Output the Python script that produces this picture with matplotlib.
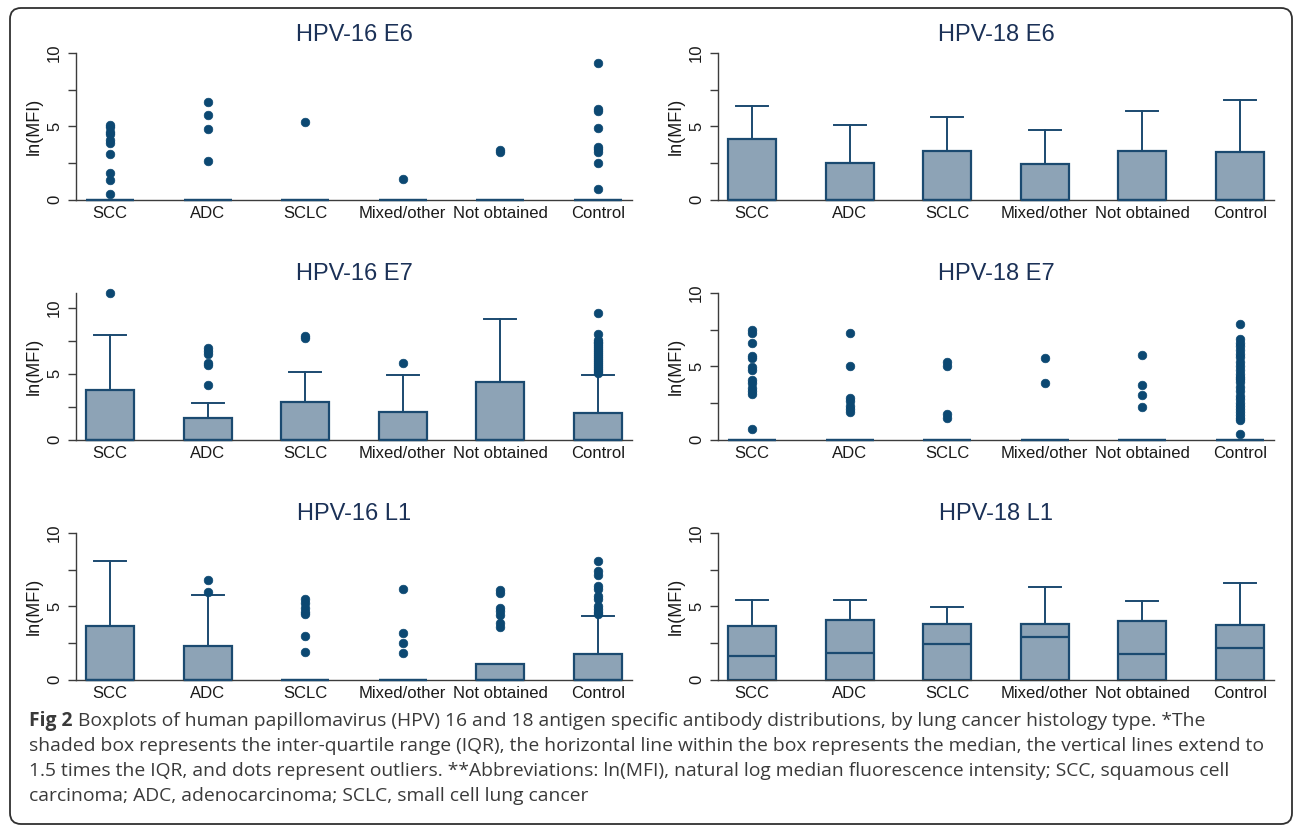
import matplotlib
matplotlib.use("Agg")
import matplotlib.pyplot as plt
from matplotlib.patches import FancyBboxPatch
from matplotlib.transforms import IdentityTransform

# ---------------- data ----------------
categories = ["SCC", "ADC", "SCLC", "Mixed/other", "Not obtained", "Control"]
panel_titles = ["HPV-16 E6", "HPV-18 E6", "HPV-16 E7", "HPV-18 E7", "HPV-16 L1", "HPV-18 L1"]

# HPV-16 E6
hpv16_e6_q1 = [0, 0, 0, 0, 0, 0]
hpv16_e6_med = [0, 0, 0, 0, 0, 0]
hpv16_e6_q3 = [0, 0, 0, 0, 0, 0]
hpv16_e6_hi = [0, 0, 0, 0, 0, 0]
hpv16_e6_out = [
    [0.4, 1.35, 1.8, 3.1, 3.85, 4.05, 4.5, 4.6, 4.95, 5.1],
    [2.6, 4.8, 5.8, 6.65],
    [5.3],
    [1.4],
    [3.25, 3.4],
    [0.7, 2.5, 3.25, 3.45, 3.6, 4.9, 6.05, 6.2, 9.35],
]

# HPV-18 E6
hpv18_e6_q1 = [0, 0, 0, 0, 0, 0]
hpv18_e6_med = [0, 0, 0, 0, 0, 0]
hpv18_e6_q3 = [4.16, 2.48, 3.34, 2.41, 3.32, 3.23]
hpv18_e6_hi = [6.39, 5.07, 5.64, 4.75, 6.07, 6.80]
hpv18_e6_out = [[], [], [], [], [], []]

# HPV-16 E7
hpv16_e7_q1 = [0, 0, 0, 0, 0, 0]
hpv16_e7_med = [0, 0, 0, 0, 0, 0]
hpv16_e7_q3 = [3.80, 1.60, 2.85, 2.10, 4.35, 2.05]
hpv16_e7_hi = [7.97, 2.78, 5.15, 4.93, 9.14, 4.93]
hpv16_e7_out = [
    [11.14],
    [4.18, 5.65, 5.85, 6.5, 6.7, 6.95],
    [7.7, 7.9],
    [5.8],
    [],
    [5.05, 5.2, 5.35, 5.5, 5.65, 5.8, 5.95, 6.1, 6.25, 6.4, 6.55, 6.7,
     6.85, 7.0, 7.15, 7.3, 7.45, 7.6, 8.0, 9.6],
]

# HPV-18 E7
hpv18_e7_q1 = [0, 0, 0, 0, 0, 0]
hpv18_e7_med = [0, 0, 0, 0, 0, 0]
hpv18_e7_q3 = [0, 0, 0, 0, 0, 0]
hpv18_e7_hi = [0, 0, 0, 0, 0, 0]
hpv18_e7_out = [
    [0.7, 3.1, 3.3, 3.5, 3.85, 4.05, 4.75, 4.95, 5.55, 5.7, 6.6, 7.3, 7.5],
    [1.9, 2.1, 2.3, 2.6, 2.85, 5.0, 7.3],
    [1.5, 1.75, 5.05, 5.3],
    [3.85, 5.55],
    [2.2, 3.05, 3.7, 5.75],
    [0.4, 1.3, 1.5, 1.7, 1.9, 2.1, 2.3, 2.5, 2.75, 3.0, 3.3, 3.6, 3.9, 4.1,
     4.3, 4.5, 4.75, 5.0, 5.3, 5.6, 5.85, 6.1, 6.35, 6.6, 6.85, 7.85],
]

# HPV-16 L1
hpv16_l1_q1 = [0, 0, 0, 0, 0, 0]
hpv16_l1_med = [0, 0, 0, 0, 0, 0]
hpv16_l1_q3 = [3.68, 2.32, 0, 0, 1.07, 1.77]
hpv16_l1_hi = [8.11, 5.80, 0, 0, 1.07, 4.36]
hpv16_l1_out = [
    [],
    [5.95, 6.8],
    [1.85, 2.95, 4.45, 4.6, 4.9, 5.2, 5.5],
    [1.8, 2.5, 3.2, 6.2],
    [3.6, 3.85, 4.4, 4.65, 4.9, 5.9, 6.1],
    [4.45, 4.6, 4.8, 5.0, 5.5, 5.7, 6.15, 6.35, 7.15, 7.4, 8.1],
]

# HPV-18 L1
hpv18_l1_q1 = [0, 0, 0, 0, 0, 0]
hpv18_l1_med = [1.59, 1.82, 2.41, 2.89, 1.75, 2.14]
hpv18_l1_q3 = [3.68, 4.05, 3.82, 3.82, 4.00, 3.70]
hpv18_l1_hi = [5.41, 5.45, 4.93, 6.32, 5.39, 6.57]
hpv18_l1_out = [[], [], [], [], [], []]

y_major_ticks = [0, 5, 10]
y_minor_ticks = [2.5, 7.5]
y_label = "ln(MFI)"

caption_bold = "Fig 2"
caption_lines = [
    "Boxplots of human papillomavirus (HPV) 16 and 18 antigen specific antibody distributions, by lung cancer histology type. *The",
    "shaded box represents the inter-quartile range (IQR), the horizontal line within the box represents the median, the vertical lines extend to",
    "1.5 times the IQR, and dots represent outliers. **Abbreviations: ln(MFI), natural log median fluorescence intensity; SCC, squamous cell",
    "carcinoma; ADC, adenocarcinoma; SCLC, small cell lung cancer",
]

panels = [
    (hpv16_e6_q1, hpv16_e6_med, hpv16_e6_q3, hpv16_e6_hi, hpv16_e6_out),
    (hpv18_e6_q1, hpv18_e6_med, hpv18_e6_q3, hpv18_e6_hi, hpv18_e6_out),
    (hpv16_e7_q1, hpv16_e7_med, hpv16_e7_q3, hpv16_e7_hi, hpv16_e7_out),
    (hpv18_e7_q1, hpv18_e7_med, hpv18_e7_q3, hpv18_e7_hi, hpv18_e7_out),
    (hpv16_l1_q1, hpv16_l1_med, hpv16_l1_q3, hpv16_l1_hi, hpv16_l1_out),
    (hpv18_l1_q1, hpv18_l1_med, hpv18_l1_q3, hpv18_l1_hi, hpv18_l1_out),
]

# ---------------- style ----------------
W, H = 1295, 827
DPI = 100
box_fill = "#8da3b6"
box_edge = "#1b4a70"
dot_color = "#0c4872"
title_color = "#1b3157"
axis_color = "#3c3c3c"
text_color = "#1a1a1a"

plt.rcParams["font.family"] = ["Liberation Sans", "DejaVu Sans"]

fig = plt.figure(figsize=(W / DPI, H / DPI), dpi=DPI)

col_left_px = [76, 718]
ax_w_px = 556
row_top_px = [53, 293, 533]
ax_h_px = 146.5

for i, (q1, med, q3, hi, out) in enumerate(panels):
    r, c = divmod(i, 2)
    left = col_left_px[c] / W
    bottom = 1 - (row_top_px[r] + ax_h_px) / H
    ax = fig.add_axes([left, bottom, ax_w_px / W, ax_h_px / H])
    stats = []
    for k, cat in enumerate(categories):
        stats.append(dict(label=cat, q1=q1[k], med=med[k], q3=q3[k],
                          whislo=q1[k], whishi=hi[k], fliers=out[k]))
    positions = list(range(1, len(categories) + 1))
    bp = ax.bxp(stats, positions=positions, widths=0.49, capwidths=0.33,
                patch_artist=True, showfliers=True,
                boxprops=dict(facecolor=box_fill, edgecolor=box_edge, linewidth=1.6),
                medianprops=dict(color=box_edge, linewidth=1.6),
                whiskerprops=dict(color=box_edge, linewidth=1.4),
                capprops=dict(color=box_edge, linewidth=1.4),
                flierprops=dict(marker="o", markerfacecolor=dot_color,
                                markeredgecolor=dot_color, markersize=6.2,
                                markeredgewidth=0.5, linestyle="none"))
    for key in ("fliers", "boxes", "medians", "caps", "whiskers"):
        for art in bp[key]:
            art.set_clip_on(False)
    for b in bp["boxes"]:
        b.set_zorder(2)
    for m in bp["medians"]:
        m.set_zorder(3)
    for f in bp["fliers"]:
        f.set_zorder(4)

    all_vals = [v for lst in out for v in lst] + list(hi) + list(q3)
    ax.set_xlim(0.65, len(categories) + 0.35)
    ax.set_ylim(0, max(10, max(all_vals)))

    ax.set_yticks(y_major_ticks)
    ax.set_yticks(y_minor_ticks, minor=True)
    ax.set_yticklabels([str(t) for t in y_major_ticks], rotation=90, va="center")
    ax.tick_params(axis="y", which="both", length=5.5, width=1.0, color=axis_color,
                   labelsize=12, pad=4.5, labelcolor=text_color)
    ax.set_xticks(positions)
    ax.set_xticklabels(categories)
    ax.tick_params(axis="x", length=0, labelsize=12, pad=5, labelcolor=text_color)
    ax.set_ylabel(y_label, fontsize=13, color=text_color, labelpad=3)

    for s in ("top", "right"):
        ax.spines[s].set_visible(False)
    for s in ("left", "bottom"):
        ax.spines[s].set_color(axis_color)
        ax.spines[s].set_linewidth(1.0)
    ax.set_facecolor("none")

    ax.text(0.5, 1 + 18.5 / ax_h_px, panel_titles[i], transform=ax.transAxes,
            ha="center", va="center", fontsize=17, color=title_color)

# rounded outer frame (display pixel coordinates)
frame = FancyBboxPatch((10, H - 824), 1282, 816,
                       boxstyle="round,pad=0,rounding_size=11",
                       facecolor="none", edgecolor="#303030", linewidth=1.3,
                       transform=IdentityTransform())
fig.patches.append(frame)

# caption
cap_font = ["Open Sans", "DejaVu Sans"]
cap_size = 13.9
cap_color = "#3a3a3a"
line_y_px = [721, 746, 771, 796]
renderer = fig.canvas.get_renderer()
x0 = 29 / W
t = fig.text(x0, 1 - line_y_px[0] / H, caption_bold, fontsize=cap_size,
             fontweight="bold", family=cap_font, color=cap_color, va="center", ha="left")
bb = t.get_window_extent(renderer)
sp = fig.text(0, 0, "a a", fontsize=cap_size, family=cap_font)
sp2 = fig.text(0, 0, "aa", fontsize=cap_size, family=cap_font)
space_w = sp.get_window_extent(renderer).width - sp2.get_window_extent(renderer).width
sp.remove(); sp2.remove()
fig.text((bb.x1 + space_w) / W, 1 - line_y_px[0] / H, caption_lines[0], fontsize=cap_size,
         family=cap_font, color=cap_color, va="center", ha="left")
for ln, yy in zip(caption_lines[1:], line_y_px[1:]):
    fig.text(x0, 1 - yy / H, ln, fontsize=cap_size, family=cap_font,
             color=cap_color, va="center", ha="left")

fig.savefig("out.png", dpi=DPI)
